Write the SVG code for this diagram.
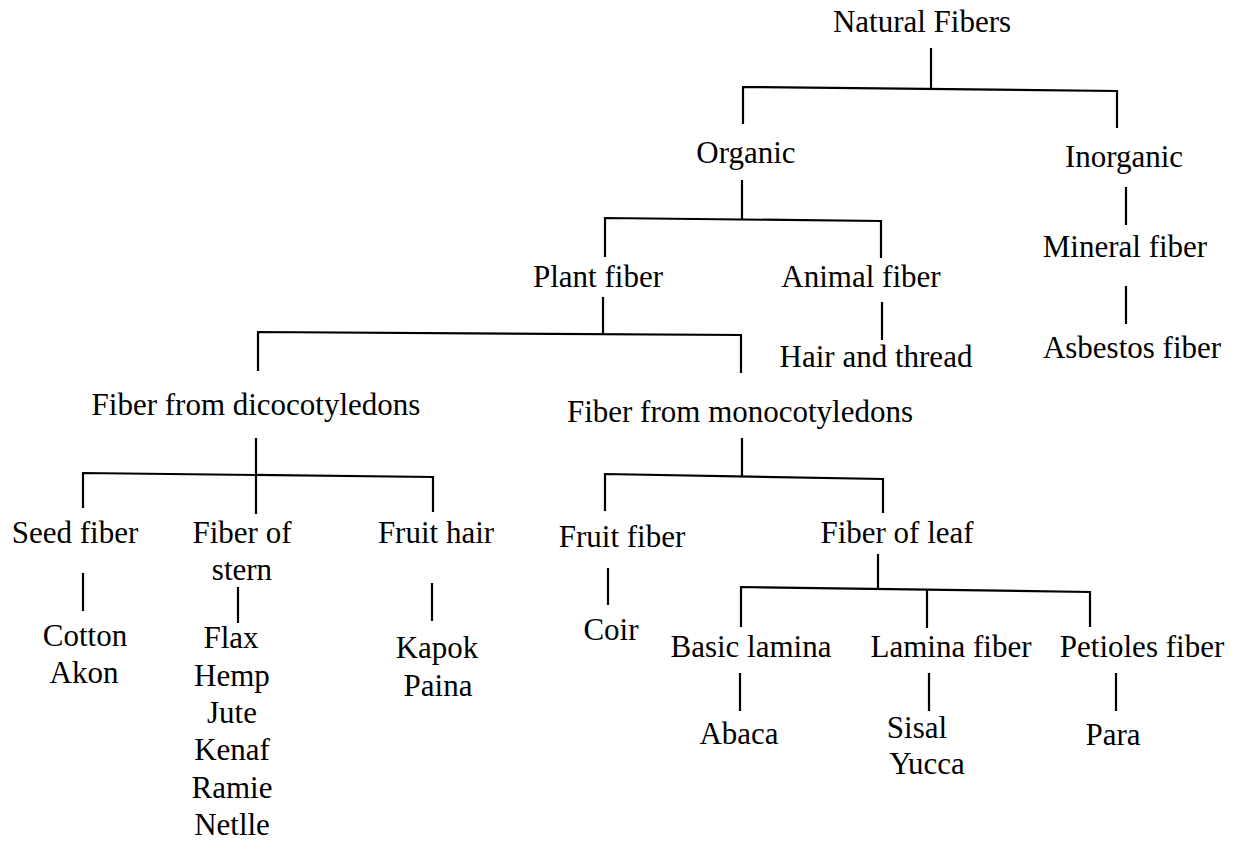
<svg xmlns="http://www.w3.org/2000/svg" width="1240" height="841" viewBox="0 0 1240 841">
<style>
text{font-family:"Liberation Serif","Times New Roman",serif;font-size:31px;fill:#000;text-anchor:middle}
.c path{fill:none;stroke:#000;stroke-width:2.2;stroke-linejoin:miter}
</style>
<rect width="1240" height="841" fill="#fff"/>
<g class="c" id="connectors">
<path d="M931,48 V88"/>
<path d="M743,124 V87 L1117,91 V128"/>
<path d="M742,180 V219"/>
<path d="M605,257 V218 L881,221 V258"/>
<path d="M1126,187 V225"/>
<path d="M1126,286 V324"/>
<path d="M882,302 V340"/>
<path d="M603,297 V333"/>
<path d="M258,371 V332 L741,335 V373"/>
<path d="M256,438 V514"/>
<path d="M83,508 V473 L433,477 V512"/>
<path d="M742,438 V476"/>
<path d="M605,511 V474 L883,479 V513"/>
<path d="M83,573 V611"/>
<path d="M238,587 V623"/>
<path d="M432,583 V621"/>
<path d="M608,568 V605"/>
<path d="M878,554 V589"/>
<path d="M741,627 V587 L1090,592 V627"/>
<path d="M927,590 V628"/>
<path d="M740,673 V711"/>
<path d="M929,673 V711"/>
<path d="M1116,673 V711"/>
</g>
<g id="natural-fibers"><text x="922" y="32">Natural Fibers</text></g>
<g id="organic"><text x="746" y="163">Organic</text></g>
<g id="inorganic"><text x="1124" y="167">Inorganic</text></g>
<g id="plant-fiber"><text x="598" y="287">Plant fiber</text></g>
<g id="animal-fiber"><text x="861" y="287">Animal fiber</text></g>
<g id="mineral-fiber"><text x="1125" y="257">Mineral fiber</text></g>
<g id="asbestos-fiber"><text x="1132" y="358">Asbestos fiber</text></g>
<g id="hair-and-thread"><text x="876" y="367">Hair and thread</text></g>
<g id="dicot"><text x="256" y="415">Fiber from dicocotyledons</text></g>
<g id="monocot"><text x="740" y="422">Fiber from monocotyledons</text></g>
<g id="seed-fiber"><text x="75" y="543">Seed fiber</text></g>
<g id="fiber-of-stern"><text x="242" y="543">Fiber of</text><text x="242" y="580">stern</text></g>
<g id="fruit-hair"><text x="436" y="543">Fruit hair</text></g>
<g id="fruit-fiber"><text x="622" y="547">Fruit fiber</text></g>
<g id="fiber-of-leaf"><text x="897" y="543">Fiber of leaf</text></g>
<g id="seed-examples"><text x="85" y="646">Cotton</text><text x="84" y="683">Akon</text></g>
<g id="stern-examples"><text x="231" y="648">Flax</text><text x="232" y="686">Hemp</text><text x="232" y="723">Jute</text><text x="232" y="760">Kenaf</text><text x="232" y="798">Ramie</text><text x="232" y="835">Netlle</text></g>
<g id="fruit-hair-examples"><text x="437" y="658">Kapok</text><text x="438" y="696">Paina</text></g>
<g id="coir"><text x="611" y="640">Coir</text></g>
<g id="basic-lamina"><text x="751" y="657">Basic lamina</text></g>
<g id="lamina-fiber"><text x="951" y="657">Lamina fiber</text></g>
<g id="petioles-fiber"><text x="1142" y="657">Petioles fiber</text></g>
<g id="abaca"><text x="739" y="744">Abaca</text></g>
<g id="lamina-examples"><text x="917" y="738">Sisal</text><text x="927" y="774">Yucca</text></g>
<g id="para"><text x="1113" y="745">Para</text></g>
</svg>
